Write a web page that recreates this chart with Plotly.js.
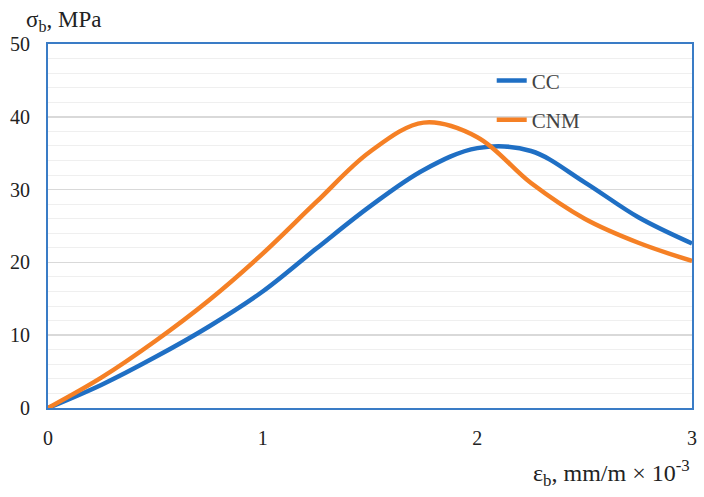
<!DOCTYPE html>
<html><head><meta charset="utf-8">
<script src="https://cdn.plot.ly/plotly-3.0.1.min.js"></script>
<style>html,body{margin:0;padding:0;background:#fff}</style>
</head><body><div id="chart" style="width:704px;height:497px"></div>
<script>
const seriesNames = ["CC", "CNM"];
const strainX = [0, 0.25, 0.5, 0.75, 1.0, 1.25, 1.5, 1.75, 2.0, 2.25, 2.5, 2.75, 3.0];
const ccY  = [0, 3.2, 7.0, 11.2, 16.0, 21.9, 27.7, 32.7, 35.7, 35.3, 31.0, 26.2, 22.6];
const cnmY = [0, 4.2, 9.2, 14.8, 21.2, 28.3, 35.2, 39.2, 37.2, 30.9, 26.0, 22.7, 20.2];
const xTicks = [0, 1, 2, 3];
const yTicks = [0, 10, 20, 30, 40, 50];

const serif = "Liberation Serif, DejaVu Serif, serif";
const traces = [
  {x: strainX, y: ccY, name: seriesNames[0], mode: "lines", line: {color: "#1F6FC4", width: 4.5, shape: "spline", smoothing: 1}, legendgroup: "a"},
  {x: strainX, y: cnmY, name: seriesNames[1], mode: "lines", line: {color: "#F58025", width: 4.5, shape: "spline", smoothing: 1}, legendgroup: "b"}
];
const layout = {
  width: 704, height: 497,
  margin: {l: 48, r: 12, t: 44, b: 89},
  paper_bgcolor: "#fff", plot_bgcolor: "#fff",
  font: {family: serif, size: 20, color: "#222"},
  showlegend: true,
  legend: {x: 0.689, y: 0.955, xanchor: "left", yanchor: "top", bgcolor: "rgba(0,0,0,0)",
           font: {family: serif, size: 21, color: "#444"}, traceorder: "grouped", tracegroupgap: 9},
  xaxis: {range: [0, 3], tickvals: xTicks, ticks: "", showgrid: false, zeroline: false,
          showline: true, mirror: true, linecolor: "#3A7CC6", linewidth: 2,
          tickfont: {family: serif, size: 20, color: "#222"}, ticklabelstandoff: 11},
  yaxis: {range: [0, 50], tickvals: yTicks, ticks: "", showgrid: true, gridcolor: "#d9d9d9", gridwidth: 1.5,
          zeroline: false, showline: true, mirror: true, linecolor: "#3A7CC6", linewidth: 2,
          minor: {dtick: 2, showgrid: true, gridcolor: "#efefef", gridwidth: 1},
          tickfont: {family: serif, size: 20, color: "#222"}, ticklabelstandoff: 12},
  annotations: [
    {xref: "paper", yref: "paper", x: -0.038, y: 1.0, yshift: 7, xanchor: "left", yanchor: "bottom", showarrow: false,
     text: "σ<sub>b</sub>, MPa", font: {family: serif, size: 23, color: "#222"}},
    {xref: "paper", yref: "paper", x: 1.0, y: 0, yshift: -46, xanchor: "right", yanchor: "top", showarrow: false,
     text: "ε<sub>b</sub>, mm/m × 10<sup>-3</sup>", font: {family: serif, size: 24, color: "#222"}}
  ]
};
Plotly.newPlot("chart", traces, layout, {displayModeBar: false, staticPlot: true});
</script></body></html>
